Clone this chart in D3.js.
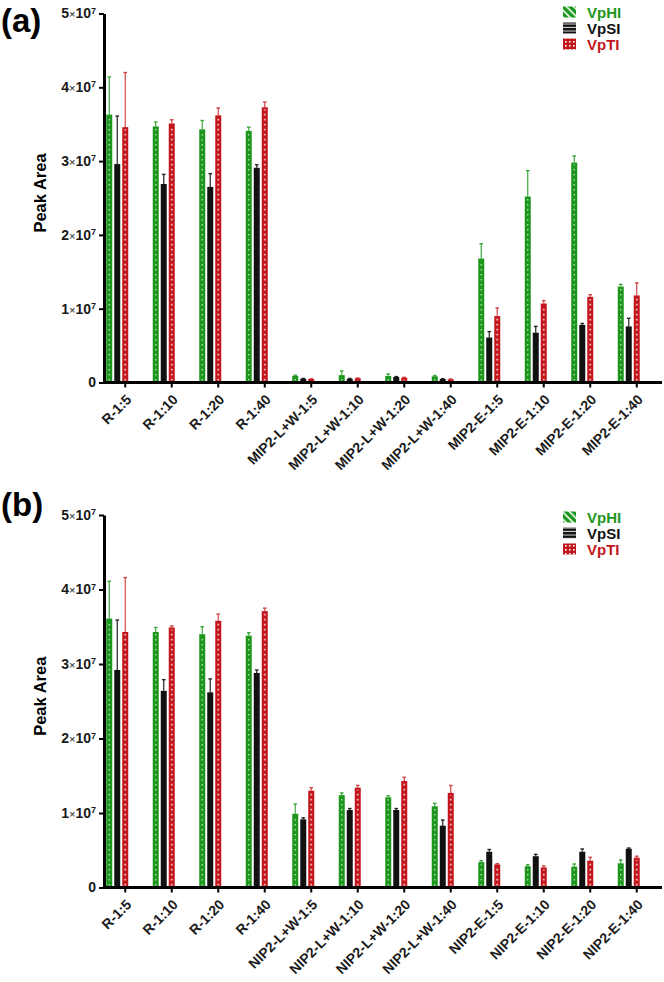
<!DOCTYPE html>
<html><head><meta charset="utf-8">
<script src="https://cdn.jsdelivr.net/npm/d3@7"></script>
<style>body{margin:0;background:#fff} text{font-family:"Liberation Sans",Arial,sans-serif}</style>
</head><body><svg id="c" width="664" height="982"></svg>
<script>
const series = ["VpHI", "VpSI", "VpTI"];
const yTicks = [0, 1e7, 2e7, 3e7, 4e7, 5e7];

const categoriesA = ["R-1:5","R-1:10","R-1:20","R-1:40","MIP2-L+W-1:5","MIP2-L+W-1:10","MIP2-L+W-1:20","MIP2-L+W-1:40","MIP2-E-1:5","MIP2-E-1:10","MIP2-E-1:20","MIP2-E-1:40"];
const vphiA    = [3.63e7,3.47e7,3.43e7,3.41e7,0.088e7,0.10e7,0.088e7,0.084e7,1.68e7,2.52e7,2.98e7,1.30e7];
const vphiAErr = [0.51e7,0.06e7,0.12e7,0.05e7,0.01e7,0.056e7,0.027e7,0.01e7,0.20e7,0.35e7,0.09e7,0.03e7];
const vpsiA    = [2.96e7,2.69e7,2.65e7,2.91e7,0.05e7,0.05e7,0.075e7,0.047e7,0.61e7,0.675e7,0.78e7,0.76e7];
const vpsiAErr = [0.65e7,0.13e7,0.18e7,0.04e7,0.005e7,0.005e7,0.005e7,0.005e7,0.08e7,0.085e7,0.02e7,0.11e7];
const vptiA    = [3.46e7,3.51e7,3.62e7,3.73e7,0.047e7,0.057e7,0.065e7,0.043e7,0.90e7,1.07e7,1.16e7,1.18e7];
const vptiAErr = [0.74e7,0.05e7,0.10e7,0.07e7,0.005e7,0.005e7,0.005e7,0.005e7,0.11e7,0.04e7,0.03e7,0.17e7];

const categoriesB = ["R-1:5","R-1:10","R-1:20","R-1:40","NIP2-L+W-1:5","NIP2-L+W-1:10","NIP2-L+W-1:20","NIP2-L+W-1:40","NIP2-E-1:5","NIP2-E-1:10","NIP2-E-1:20","NIP2-E-1:40"];
const vphiB    = [3.61e7,3.43e7,3.40e7,3.38e7,0.99e7,1.24e7,1.21e7,1.09e7,0.34e7,0.285e7,0.28e7,0.325e7];
const vphiBErr = [0.50e7,0.06e7,0.10e7,0.04e7,0.13e7,0.03e7,0.02e7,0.04e7,0.02e7,0.02e7,0.035e7,0.045e7];
const vpsiB    = [2.92e7,2.64e7,2.62e7,2.88e7,0.915e7,1.04e7,1.04e7,0.83e7,0.48e7,0.42e7,0.48e7,0.52e7];
const vpsiBErr = [0.67e7,0.15e7,0.18e7,0.04e7,0.02e7,0.02e7,0.02e7,0.076e7,0.03e7,0.025e7,0.037e7,0.01e7];
const vptiB    = [3.43e7,3.49e7,3.58e7,3.71e7,1.30e7,1.34e7,1.43e7,1.27e7,0.31e7,0.27e7,0.36e7,0.40e7];
const vptiBErr = [0.73e7,0.02e7,0.09e7,0.04e7,0.04e7,0.03e7,0.05e7,0.10e7,0.01e7,0.02e7,0.045e7,0.02e7];

const colors = {VpHI: "#1c961c", VpSI: "#111111", VpTI: "#c3161c"};
const errColors = {VpHI: "#3aa83a", VpSI: "#222222", VpTI: "#d2454a"};

const svg = d3.select("#c");
const defs = svg.append("defs");
// legend patterns
const pG = defs.append("pattern").attr("id","pG").attr("patternUnits","userSpaceOnUse").attr("width",5).attr("height",5).attr("patternTransform","rotate(-45)");
pG.append("rect").attr("width",5).attr("height",5).attr("fill",colors.VpHI);
pG.append("rect").attr("width",1.6).attr("height",5).attr("fill","#fff");
const pS = defs.append("pattern").attr("id","pS").attr("patternUnits","userSpaceOnUse").attr("width",4).attr("height",3.5);
pS.append("rect").attr("width",4).attr("height",3.5).attr("fill",colors.VpSI);
pS.append("rect").attr("y",2.5).attr("width",4).attr("height",1).attr("fill","#ddd");
const pT = defs.append("pattern").attr("id","pT").attr("patternUnits","userSpaceOnUse").attr("width",4).attr("height",4);
pT.append("rect").attr("width",4).attr("height",4).attr("fill",colors.VpTI);
pT.append("rect").attr("x",1).attr("y",1).attr("width",1.6).attr("height",1.6).attr("fill","#fff");
const legendFill = {VpHI: "url(#pG)", VpSI: "url(#pS)", VpTI: "url(#pT)"};

function panel(cfg) {
  const g = svg.append("g");
  const x = d3.scaleBand().domain(cfg.categories).range([102, 660]);
  const x1 = d3.scaleBand().domain(series).range([-19, 3]).paddingInner(0.25);
  const y = d3.scaleLinear().domain([0, 5e7]).range([cfg.yBottom, cfg.yTop]);
  const cx = c => x(c) + x.bandwidth() / 2;

  const rows = [];
  cfg.categories.forEach((c, i) => {
    series.forEach((s, j) => rows.push({c, s, v: cfg.values[j][i], e: cfg.errors[j][i]}));
  });

  // error bars
  const eg = g.append("g");
  rows.forEach(d => {
    const xm = cx(d.c) + x1(d.s) + x1.bandwidth() / 2;
    eg.append("line").attr("x1", xm).attr("x2", xm).attr("y1", y(d.v)).attr("y2", y(d.v + d.e))
      .attr("stroke", errColors[d.s]).attr("stroke-width", 1.2);
    eg.append("line").attr("x1", xm - 1.8).attr("x2", xm + 1.8).attr("y1", y(d.v + d.e)).attr("y2", y(d.v + d.e))
      .attr("stroke", errColors[d.s]).attr("stroke-width", 1.4);
  });

  // bars
  g.append("g").selectAll("rect").data(rows).join("rect")
    .attr("x", d => cx(d.c) + x1(d.s))
    .attr("width", x1.bandwidth())
    .attr("y", d => y(d.v))
    .attr("height", d => y(0) - y(d.v))
    .attr("fill", d => colors[d.s]);
  // fill texture along bar centre
  g.append("g").selectAll("line").data(rows.filter(d => d.s !== "VpSI")).join("line")
    .attr("x1", d => cx(d.c) + x1(d.s) + x1.bandwidth() / 2)
    .attr("x2", d => cx(d.c) + x1(d.s) + x1.bandwidth() / 2)
    .attr("y1", d => y(0) - 2)
    .attr("y2", d => Math.min(y(d.v) + 2, y(0) - 2))
    .attr("stroke", "#fff")
    .attr("stroke-opacity", d => d.s === "VpHI" ? 0.75 : 0.7)
    .attr("stroke-width", d => d.s === "VpHI" ? 1.2 : 1.8)
    .attr("stroke-dasharray", d => d.s === "VpHI" ? "1.4,3.6" : "1.8,3.2");

  // y axis
  const ya = g.append("g").attr("transform", "translate(104,0)")
    .call(d3.axisLeft(y).tickValues(yTicks).tickSize(5).tickSizeOuter(0).tickPadding(3));
  ya.select(".domain").attr("stroke", "#000").attr("stroke-width", 3);
  ya.selectAll(".tick line").attr("stroke", "#000").attr("stroke-width", 2);
  ya.selectAll(".tick text").each(function(d) {
    const t = d3.select(this).text("").attr("font-size", 14).attr("font-weight", "bold").attr("fill", "#1a1a1a");
    if (d === 0) { t.text("0"); return; }
    t.append("tspan").text(d / 1e7);
    t.append("tspan").text("×").attr("font-weight", "normal").attr("font-size", 11);
    t.append("tspan").text("10");
    t.append("tspan").text("7").attr("font-size", 9).attr("dy", "-0.55em");
  });

  // x axis
  const xa = g.append("g").attr("transform", `translate(0,${cfg.yBottom})`)
    .call(d3.axisBottom(x).tickSize(5).tickSizeOuter(0));
  xa.select(".domain").remove();
  xa.append("line").attr("x1", 103).attr("x2", 662).attr("stroke", "#000").attr("stroke-width", 3);
  xa.selectAll(".tick line").attr("stroke", "#000").attr("stroke-width", 2);
  xa.selectAll(".tick text")
    .attr("font-size", 14).attr("font-weight", "bold").attr("fill", "#1a1a1a")
    .attr("text-anchor", "end").attr("y", 0).attr("dy", 0)
    .attr("transform", "translate(7,18) rotate(-45)");

  // y title
  g.append("text").attr("transform", `translate(46,${(cfg.yTop + cfg.yBottom) / 2 - 5}) rotate(-90)`)
    .attr("text-anchor", "middle").attr("font-size", 16.5).attr("font-weight", "bold").text("Peak Area");

  // panel label
  g.append("text").attr("x", 1).attr("y", cfg.labelY).attr("font-size", 33).attr("font-weight", "bold").text(cfg.label);

  // legend
  const lg = g.append("g");
  series.forEach((s, i) => {
    const ly = cfg.legendY + i * 16;
    lg.append("rect").attr("x", 563).attr("y", ly - 5.5).attr("width", 13).attr("height", 11).attr("fill", legendFill[s]);
    lg.append("text").attr("x", 587).attr("y", ly + 5.5).attr("font-size", 15).attr("font-weight", "bold")
      .attr("fill", colors[s]).text(s);
  });
}

panel({label: "(a)", labelY: 32, legendY: 12, categories: categoriesA, yTop: 13.5, yBottom: 382.5,
  values: [vphiA, vpsiA, vptiA], errors: [vphiAErr, vpsiAErr, vptiAErr]});
panel({label: "(b)", labelY: 516, legendY: 517, categories: categoriesB, yTop: 515, yBottom: 887.5,
  values: [vphiB, vpsiB, vptiB], errors: [vphiBErr, vpsiBErr, vptiBErr]});
</script></body></html>
